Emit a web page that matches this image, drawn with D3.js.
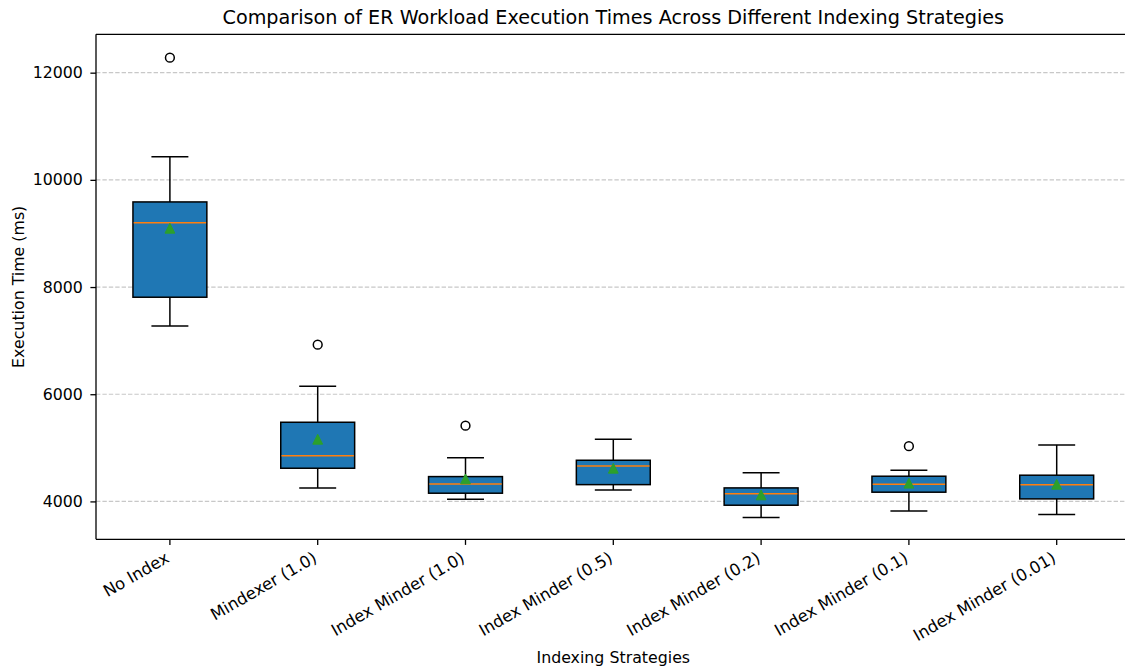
<!DOCTYPE html>
<html>
<head>
<meta charset="utf-8">
<script src="https://cdn.jsdelivr.net/npm/d3@7"></script>
<style>
  body { margin: 0; background: #fff; }
  text { font-family: "DejaVu Sans", sans-serif; fill: #000; }
</style>
</head>
<body>
<svg id="chart" width="1125" height="669"></svg>
<script>
const categories = ["No Index", "Mindexer (1.0)", "Index Minder (1.0)", "Index Minder (0.5)", "Index Minder (0.2)", "Index Minder (0.1)", "Index Minder (0.01)"];
const whiskerLow  = [7274, 4252, 4041, 4214, 3698, 3823, 3754];
const q1          = [7810, 4619, 4153, 4313, 3929, 4172, 4047];
const medians     = [9201, 4854, 4326, 4662, 4145, 4321, 4313];
const q3          = [9588, 5477, 4463, 4768, 4252, 4470, 4489];
const whiskerHigh = [10433, 6149, 4817, 5160, 4537, 4582, 5054];
const means       = [9097, 5160, 4420, 4619, 4121, 4340, 4320];
const outliers    = [[12280], [6925], [5414], [], [], [5030], []];
const yTicks = [4000, 6000, 8000, 10000, 12000];

const title = "Comparison of ER Workload Execution Times Across Different Indexing Strategies";
const xLabel = "Indexing Strategies";
const yLabel = "Execution Time (ms)";

const svg = d3.select("#chart");
const mLeft = 96, mRight = 1130.6, mTop = 34.3, mBottom = 539.3;
const tickLen = 5.6, fs = 15.8, fsX = 16.4;

const x = d3.scaleBand().domain(categories).range([mLeft, mRight]).padding(0);
const y = d3.scaleLinear().domain([3293, 12716]).range([mBottom, mTop]);
const bw = x.bandwidth();
const cx = c => x(c) + bw / 2;

// grid
svg.append("g").selectAll("line").data(yTicks).join("line")
  .attr("x1", mLeft).attr("x2", mRight)
  .attr("y1", d => y(d)).attr("y2", d => y(d))
  .attr("stroke", "#c8c8c8").attr("stroke-width", 1.2)
  .attr("stroke-dasharray", "4.4,2");

const data = categories.map((c, i) => ({
  c, lo: whiskerLow[i], q1: q1[i], med: medians[i], q3: q3[i], hi: whiskerHigh[i], mean: means[i], out: outliers[i]
}));

const boxW = bw * 0.5, capW = bw * 0.25;
const g = svg.append("g").selectAll("g").data(data).join("g");
const lw = 1.5;

// whiskers
g.append("line").attr("x1", d => cx(d.c)).attr("x2", d => cx(d.c))
  .attr("y1", d => y(d.q1)).attr("y2", d => y(d.lo))
  .attr("stroke", "#000").attr("stroke-width", lw);
g.append("line").attr("x1", d => cx(d.c)).attr("x2", d => cx(d.c))
  .attr("y1", d => y(d.q3)).attr("y2", d => y(d.hi))
  .attr("stroke", "#000").attr("stroke-width", lw);
// caps
g.append("line").attr("x1", d => cx(d.c) - capW / 2).attr("x2", d => cx(d.c) + capW / 2)
  .attr("y1", d => y(d.lo)).attr("y2", d => y(d.lo))
  .attr("stroke", "#000").attr("stroke-width", lw);
g.append("line").attr("x1", d => cx(d.c) - capW / 2).attr("x2", d => cx(d.c) + capW / 2)
  .attr("y1", d => y(d.hi)).attr("y2", d => y(d.hi))
  .attr("stroke", "#000").attr("stroke-width", lw);
// box
g.append("rect").attr("x", d => cx(d.c) - boxW / 2).attr("width", boxW)
  .attr("y", d => y(d.q3)).attr("height", d => y(d.q1) - y(d.q3))
  .attr("fill", "#1f77b4").attr("stroke", "#000").attr("stroke-width", lw);
// median
g.append("line").attr("x1", d => cx(d.c) - boxW / 2 + 0.75).attr("x2", d => cx(d.c) + boxW / 2 - 0.75)
  .attr("y1", d => y(d.med)).attr("y2", d => y(d.med))
  .attr("stroke", "#ff7f0e").attr("stroke-width", lw);
// mean triangles
const ms = 4.9;
g.append("path")
  .attr("d", d => {
    const px = cx(d.c), py = y(d.mean);
    return `M${px},${py - ms}L${px - ms},${py + ms}L${px + ms},${py + ms}Z`;
  })
  .attr("fill", "#2ca02c").attr("stroke", "#2ca02c").attr("stroke-width", 1);
// outliers
g.selectAll("circle").data(d => d.out.map(v => ({ c: d.c, v }))).join("circle")
  .attr("cx", d => cx(d.c)).attr("cy", d => y(d.v)).attr("r", 4.4)
  .attr("fill", "none").attr("stroke", "#000").attr("stroke-width", lw);

// spines
const sw = 1.3;
svg.append("line").attr("x1", mLeft).attr("x2", mLeft).attr("y1", mTop).attr("y2", mBottom).attr("stroke", "#000").attr("stroke-width", sw);
svg.append("line").attr("x1", mLeft).attr("x2", mRight).attr("y1", mBottom).attr("y2", mBottom).attr("stroke", "#000").attr("stroke-width", sw);
svg.append("line").attr("x1", mLeft).attr("x2", mRight).attr("y1", mTop).attr("y2", mTop).attr("stroke", "#000").attr("stroke-width", sw);
svg.append("line").attr("x1", mRight).attr("x2", mRight).attr("y1", mTop).attr("y2", mBottom).attr("stroke", "#000").attr("stroke-width", sw);

// y axis
const yAxis = svg.append("g").attr("transform", `translate(${mLeft},0)`)
  .call(d3.axisLeft(y).tickValues(yTicks).tickFormat(d3.format("d")).tickSize(tickLen).tickPadding(7.5));
yAxis.select(".domain").remove();
yAxis.selectAll(".tick line").attr("stroke", "#000").attr("stroke-width", sw);
yAxis.selectAll(".tick text").style("font-family", "DejaVu Sans").style("font-size", fs + "px").attr("fill", "#000");

// x axis
const xAxis = svg.append("g").attr("transform", `translate(0,${mBottom})`)
  .call(d3.axisBottom(x).tickSize(tickLen).tickFormat(""));
xAxis.select(".domain").remove();
xAxis.selectAll(".tick line").attr("stroke", "#000").attr("stroke-width", sw);

svg.append("g").selectAll("text").data(categories).join("text")
  .attr("transform", d => `translate(${cx(d) - 5.5},${mBottom + 11.5}) rotate(-30)`)
  .attr("text-anchor", "end")
  .attr("dy", "0.72em")
  .style("font-size", fsX + "px")
  .text(d => d);

// labels
svg.append("text").attr("x", (mLeft + mRight) / 2).attr("y", 24)
  .attr("text-anchor", "middle").style("font-size", "19.2px").text(title);
svg.append("text").attr("x", (mLeft + mRight) / 2).attr("y", 662.5)
  .attr("text-anchor", "middle").style("font-size", fs + "px").text(xLabel);
svg.append("text").attr("transform", `translate(24,${(mTop + mBottom) / 2}) rotate(-90)`)
  .attr("text-anchor", "middle").style("font-size", fs + "px").text(yLabel);
</script>
</body>
</html>
